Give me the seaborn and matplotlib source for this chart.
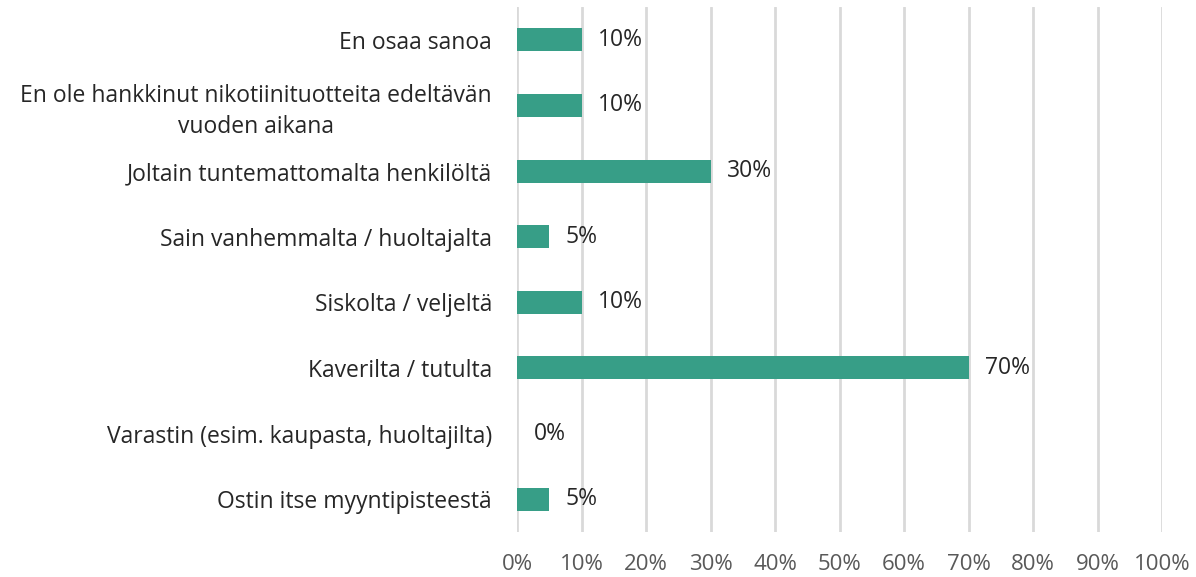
import matplotlib
matplotlib.use("Agg")
import matplotlib.pyplot as plt
import seaborn as sns
import pandas as pd

categories = [
    "En osaa sanoa",
    "En ole hankkinut nikotiinituotteita edeltävän\nvuoden aikana",
    "Joltain tuntemattomalta henkilöltä",
    "Sain vanhemmalta / huoltajalta",
    "Siskolta / veljeltä",
    "Kaverilta / tutulta",
    "Varastin (esim. kaupasta, huoltajilta)",
    "Ostin itse myyntipisteestä",
]
values = [10, 10, 30, 5, 10, 70, 0, 5]
xticks = list(range(0, 101, 10))

df = pd.DataFrame({"cat": categories, "val": values})

sns.set_style("white")
plt.rcParams["font.family"] = ["Open Sans", "DejaVu Sans"]

fig = plt.figure(figsize=(11.96, 5.77), dpi=100)
ax = fig.add_axes([517/1196, 1-532/577, 645/1196, 525/577])

sns.barplot(data=df, x="val", y="cat", orient="h", color="#379E87",
            width=0.35, ax=ax, saturation=1, linewidth=0)

for c in ax.containers:
    ax.bar_label(c, labels=[f"{v}%" for v in values], padding=12,
                 fontsize=16.5, color="#262626")

ax.set_xlim(0, 100)
ax.set_xticks(xticks)
ax.set_xticklabels([f"{t}%" for t in xticks], fontsize=16, color="#595959")
ax.tick_params(axis="x", length=0, pad=16)
ax.tick_params(axis="y", length=0, pad=18, labelsize=16.5, labelcolor="#262626")
ax.grid(axis="x", color="#D9D9D9", linewidth=2)
ax.set_axisbelow(True)
for s in ax.spines.values():
    s.set_visible(False)
ax.set_xlabel("")
ax.set_ylabel("")
for lbl in ax.get_yticklabels():
    lbl.set_horizontalalignment("right")
    lbl.set_multialignment("center")
    lbl.set_linespacing(1.35)

fig.savefig("out.png", dpi=100)
